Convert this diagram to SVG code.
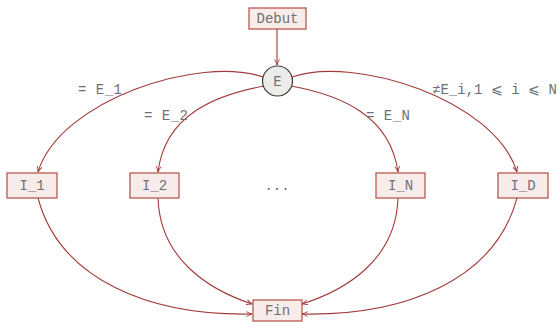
<svg xmlns="http://www.w3.org/2000/svg" width="559" height="322" viewBox="0 0 559 322">
<style>
.box{fill:#f7ece9;stroke:#b85a4e;stroke-width:1.3}
.t{font-family:"Liberation Mono","DejaVu Sans Mono",monospace;font-size:14px;fill:#6b6f78;text-anchor:middle}
.l{font-family:"Liberation Mono","DejaVu Sans Mono",monospace;font-size:14px;fill:#6b6f78}
.e{fill:none;stroke:#a33a3a;stroke-width:1.1;marker-end:url(#a)}
</style>
<defs>
<marker id="a" viewBox="0 0 10 10" refX="9" refY="5" markerWidth="7" markerHeight="7" orient="auto" markerUnits="userSpaceOnUse">
<path d="M1,1.5 Q5,4 9,5 Q5,6 1,8.5" fill="none" stroke="#a33a3a" stroke-width="1.3"/>
</marker>
</defs>
<g id="connectors">
<path class="e" d="M277,29 L277,65"/>
<path class="e" d="M263,77 C200,55 60,100 38,172"/>
<path class="e" d="M264,86 C215,95 165,115 158,172"/>
<path class="e" d="M291,86 C340,95 390,115 398,172"/>
<path class="e" d="M292,77 C355,55 495,100 517,172"/>
<path class="e" d="M38,198 C60,280 150,316 252,314"/>
<path class="e" d="M158,198 C160,260 210,290 252,304"/>
<path class="e" d="M398,198 C396,260 346,290 302,304"/>
<path class="e" d="M517,198 C495,280 405,316 302,314"/>
</g>
<g id="debut"><rect class="box" x="249" y="8" width="57" height="21"/><text class="t" x="277.5" y="23">Debut</text></g>
<g id="E"><circle cx="277.5" cy="81" r="15" fill="#ececea" stroke="#3a3a3a" stroke-width="1.2"/><text class="t" x="277.5" y="86">E</text></g>
<g id="I_1"><rect class="box" x="7" y="173" width="50" height="25"/><text class="t" x="32" y="190">I_1</text></g>
<g id="I_2"><rect class="box" x="130" y="173" width="49" height="25"/><text class="t" x="154.5" y="190">I_2</text></g>
<g id="I_N"><rect class="box" x="376" y="173" width="49" height="25"/><text class="t" x="400.5" y="190">I_N</text></g>
<g id="I_D"><rect class="box" x="498" y="173" width="50" height="25"/><text class="t" x="523" y="190">I_D</text></g>
<g id="Fin"><rect class="box" x="253" y="300" width="49" height="21"/><text class="t" x="277.5" y="315">Fin</text></g>
<g id="labels">
<text class="l" x="78" y="94" textLength="44">= E_1</text>
<text class="l" x="144" y="120" textLength="44">= E_2</text>
<text class="l" x="366" y="120" textLength="44">= E_N</text>
<text class="l" x="432" y="94" textLength="125">≠E_i,1 ⩽ i ⩽ N</text>
<text class="l" x="277" y="190" text-anchor="middle">...</text>
</g>
</svg>
